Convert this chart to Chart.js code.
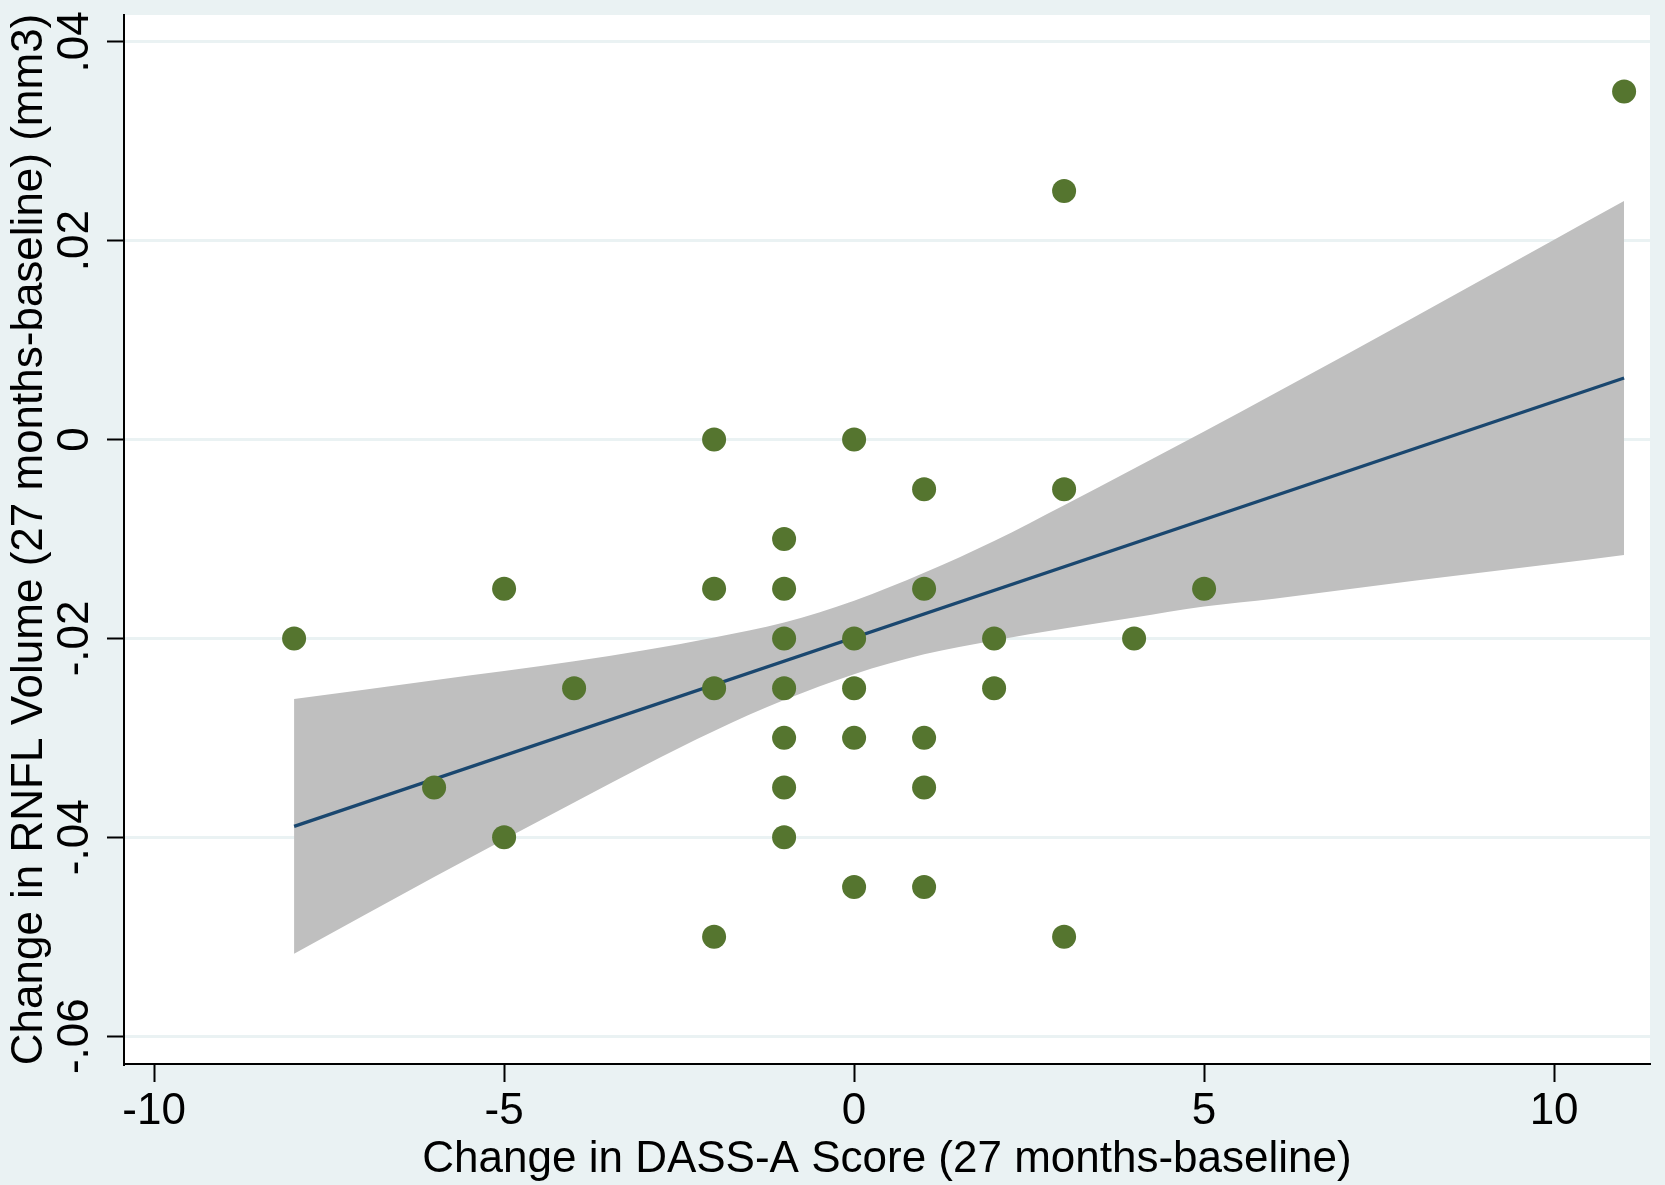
<!DOCTYPE html>
<html>
<head>
<meta charset="utf-8">
<script src="https://cdn.jsdelivr.net/npm/chart.js@4/dist/chart.umd.min.js"></script>
<style>
  html, body { margin: 0; padding: 0; background: #eaf2f3; }
  #wrap { width: 1665px; height: 1185px; }
</style>
</head>
<body>
<div id="wrap"><canvas id="scatterChart" width="1665" height="1185"></canvas></div>
<script>
  // ── DATA ──
  const dassX = [-8, -6, -5, -5, -4, -2, -2, -2, -2, -1, -1, -1, -1, -1, -1, -1,
                 0, 0, 0, 0, 0, 1, 1, 1, 1, 1, 2, 2, 3, 3, 3, 4, 5, 11];
  const rnflY = [-0.02, -0.035, -0.015, -0.04, -0.025, 0, -0.015, -0.025, -0.05,
                 -0.01, -0.015, -0.02, -0.025, -0.03, -0.035, -0.04,
                 0, -0.02, -0.025, -0.03, -0.045,
                 -0.005, -0.015, -0.03, -0.035, -0.045,
                 -0.02, -0.025, 0.025, -0.005, -0.05, -0.02, -0.015, 0.035];

  // fitted line end points
  const fitX = [-8, 11];
  const fitY = [-0.0389, 0.0062];

  // 95% CI band
  const bandX     = [-8, -6, -4, -3, -2, -1, 0, 1, 2, 3, 4, 5, 6, 8, 10, 11];
  const bandUpper = [-0.0261, -0.0242, -0.0223, -0.0212, -0.0199, -0.0184, -0.0162, -0.0134,
                     -0.0102, -0.0066, -0.0029, 0.0008, 0.0046, 0.0123, 0.0201, 0.0240];
  const bandLower = [-0.0517, -0.0440, -0.0365, -0.0328, -0.0293, -0.0262, -0.0236, -0.0216,
                     -0.0202, -0.0190, -0.0179, -0.0168, -0.0160, -0.0142, -0.0125, -0.0116];

  const xTicks = [-10, -5, 0, 5, 10];
  const yTicks = [-0.06, -0.04, -0.02, 0, 0.02, 0.04];

  const toPts = (xs, ys) => xs.map((x, i) => ({ x: x, y: ys[i] }));

  function fmtY(v) {
    const s = v.toFixed(2);
    if (Number(s) === 0) return '0';
    return s.replace('0.', '.');
  }

  const BG = '#eaf2f3';
  const FONT = 'Liberation Sans, Arial, sans-serif';

  // ── BACKGROUND ──
  const bgPlugin = {
    id: 'bg',
    beforeDraw(chart) {
      const { ctx, chartArea: a } = chart;
      ctx.save();
      ctx.fillStyle = BG;
      ctx.fillRect(0, 0, chart.width, chart.height);
      ctx.fillStyle = '#ffffff';
      ctx.fillRect(a.left, a.top, a.right - a.left, a.bottom - a.top);
      ctx.restore();
    }
  };

  // ── SCATTER CHART ──
  const ctx = document.getElementById('scatterChart').getContext('2d');
  new Chart(ctx, {
    type: 'scatter',
    data: {
      datasets: [
        {
          label: 'Observed',
          data: toPts(dassX, rnflY),
          backgroundColor: '#55752f',
          borderWidth: 0,
          pointRadius: 12,
          pointHoverRadius: 12
        },
        {
          label: 'Fitted values',
          type: 'line',
          data: toPts(fitX, fitY),
          borderColor: '#1a476f',
          borderWidth: 3.2,
          pointRadius: 0,
          fill: false
        },
        {
          label: '95% CI upper',
          type: 'line',
          data: toPts(bandX, bandUpper),
          borderWidth: 0,
          borderColor: 'rgba(0,0,0,0)',
          backgroundColor: '#bfbfbf',
          pointRadius: 0,
          cubicInterpolationMode: 'monotone',
          fill: '+1'
        },
        {
          label: '95% CI lower',
          type: 'line',
          data: toPts(bandX, bandLower),
          borderWidth: 0,
          borderColor: 'rgba(0,0,0,0)',
          pointRadius: 0,
          cubicInterpolationMode: 'monotone',
          fill: false
        }
      ]
    },
    options: {
      responsive: false,
      animation: false,
      devicePixelRatio: 1,
      layout: { padding: { top: 13, right: 15, left: 0, bottom: 0 } },
      plugins: {
        legend: { display: false },
        tooltip: { enabled: false }
      },
      scales: {
        x: {
          type: 'linear',
          min: -10.43,
          max: 11.37,
          afterFit: s => { s.height = 121; },
          afterBuildTicks: s => { s.ticks = xTicks.map(v => ({ value: v })); },
          border: { display: true, color: '#000', width: 2 },
          grid: { drawOnChartArea: false, tickLength: 18, tickColor: '#000', tickWidth: 2 },
          ticks: {
            color: '#000',
            padding: 8,
            maxRotation: 0,
            font: { family: FONT, size: 44, lineHeight: 1 },
            callback: v => String(v)
          },
          title: {
            display: true,
            text: 'Change in DASS-A Score (27 months-baseline)',
            color: '#000',
            font: { family: FONT, size: 44, lineHeight: 1 },
            padding: { top: 0, bottom: 3 }
          }
        },
        y: {
          type: 'linear',
          min: -0.0628,
          max: 0.0427,
          afterFit: s => { s.width = 124; },
          afterBuildTicks: s => { s.ticks = yTicks.map(v => ({ value: v })); },
          border: { display: true, color: '#000', width: 2 },
          grid: { color: BG, lineWidth: 3, tickLength: 17, tickColor: '#000', tickWidth: 2 },
          ticks: {
            color: '#000',
            padding: -7,
            minRotation: 90,
            maxRotation: 90,
            crossAlign: 'center',
            font: { family: FONT, size: 44, lineHeight: 1 },
            callback: v => fmtY(v)
          },
          title: {
            display: true,
            text: 'Change in RNFL Volume (27 months-baseline) (mm3)',
            color: '#000',
            font: { family: FONT, size: 44, lineHeight: 1 },
            padding: { top: 8, bottom: 0 }
          }
        }
      }
    },
    plugins: [bgPlugin]
  });
</script>
</body>
</html>
